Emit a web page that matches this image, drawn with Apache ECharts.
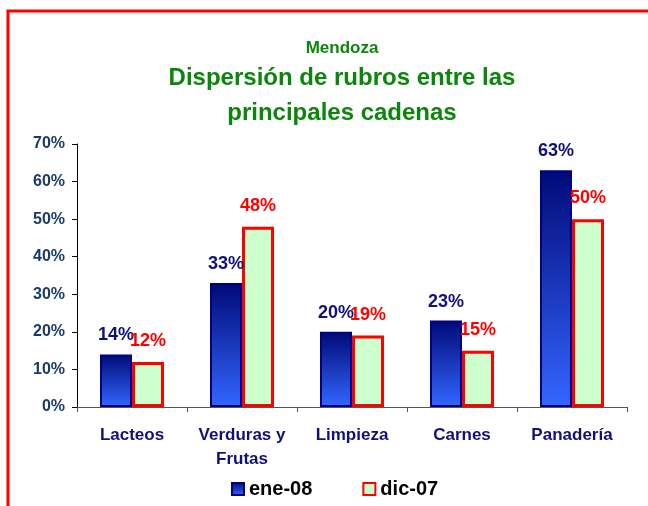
<!DOCTYPE html>
<html>
<head>
<meta charset="utf-8">
<script src="https://cdn.jsdelivr.net/npm/echarts@6/dist/echarts.min.js"></script>
<style>
  html, body { margin: 0; padding: 0; background: #fff; }
  #chartDiv { width: 648px; height: 506px; }
</style>
</head>
<body>
<div id="chartDiv"></div>
<script>
// chart data
const categories = ['Lacteos', 'Verduras y\nFrutas', 'Limpieza', 'Carnes', 'Panadería'];
const seriesNames = ['ene-08', 'dic-07'];
const ene08 = [14, 33, 20, 23, 63];
const dic07 = [12, 48, 19, 15, 50];
const yTicks = [0, 10, 20, 30, 40, 50, 60, 70];

const font = "Arial, 'Liberation Sans', sans-serif";
const chart = echarts.init(document.getElementById('chartDiv'));

const options = {
  animation: false,
  title: {
    text: 'Mendoza',
    subtext: 'Dispersión de rubros entre las\nprincipales cadenas',
    left: 337,
    textAlign: 'center',
    top: 35,
    itemGap: 4,
    textStyle: { color: '#0a870a', fontSize: 17, fontWeight: 'bold', fontFamily: font },
    subtextStyle: { color: '#0a870a', fontSize: 24, fontWeight: 'bold', fontFamily: font, lineHeight: 35 }
  },
  graphic: [{
    type: 'rect',
    shape: { x: 8, y: 11, width: 650, height: 520 },
    style: { fill: 'none', stroke: '#ff0000', lineWidth: 3 },
    silent: true
  }],
  legend: {
    data: seriesNames,
    bottom: 2,
    left: 226,
    icon: 'rect',
    itemWidth: 12,
    itemHeight: 12,
    itemGap: 50,
    textStyle: { color: '#000', fontSize: 20, fontWeight: 'bold', fontFamily: font }
  },
  grid: { left: 77, right: 21, top: 144, bottom: 99, containLabel: false },
  xAxis: {
    type: 'category',
    data: categories,
    axisLine: { lineStyle: { color: '#555', width: 1 } },
    axisTick: { show: true, length: 5, lineStyle: { color: '#555' } },
    axisLabel: {
      interval: 0,
      margin: 16,
      color: '#10107a',
      fontSize: 17,
      fontWeight: 'bold',
      fontFamily: font,
      lineHeight: 24
    }
  },
  yAxis: {
    type: 'value',
    min: yTicks[0],
    max: yTicks[yTicks.length - 1],
    interval: 10,
    splitLine: { show: false },
    axisLine: { show: true, lineStyle: { color: '#000', width: 1 } },
    axisTick: { show: true, length: 5, lineStyle: { color: '#000' } },
    axisLabel: {
      formatter: '{value}%',
      margin: 12,
      color: '#1a3a6a',
      fontSize: 16,
      fontWeight: 'bold',
      fontFamily: font
    }
  },
  series: [
    {
      name: seriesNames[0],
      type: 'bar',
      data: ene08,
      barWidth: 32,
      barGap: '0%',
      itemStyle: {
        color: new echarts.graphic.LinearGradient(0, 0, 0, 1, [
          { offset: 0, color: '#000a78' },
          { offset: 1, color: '#3366ff' }
        ]),
        borderColor: '#000080',
        borderWidth: 2
      },
      label: {
        show: true,
        position: 'top',
        distance: 10,
        formatter: '{c}%',
        color: '#10107a',
        fontSize: 18,
        fontWeight: 'bold',
        fontFamily: font
      }
    },
    {
      name: seriesNames[1],
      type: 'bar',
      data: dic07,
      barWidth: 32,
      barGap: '0%',
      itemStyle: {
        color: '#ccffcc',
        borderColor: '#ff0000',
        borderWidth: 3
      },
      label: {
        show: true,
        position: 'top',
        distance: 12,
        formatter: '{c}%',
        color: '#ff0000',
        fontSize: 18,
        fontWeight: 'bold',
        fontFamily: font
      }
    }
  ]
};

chart.setOption(options);
</script>
</body>
</html>
